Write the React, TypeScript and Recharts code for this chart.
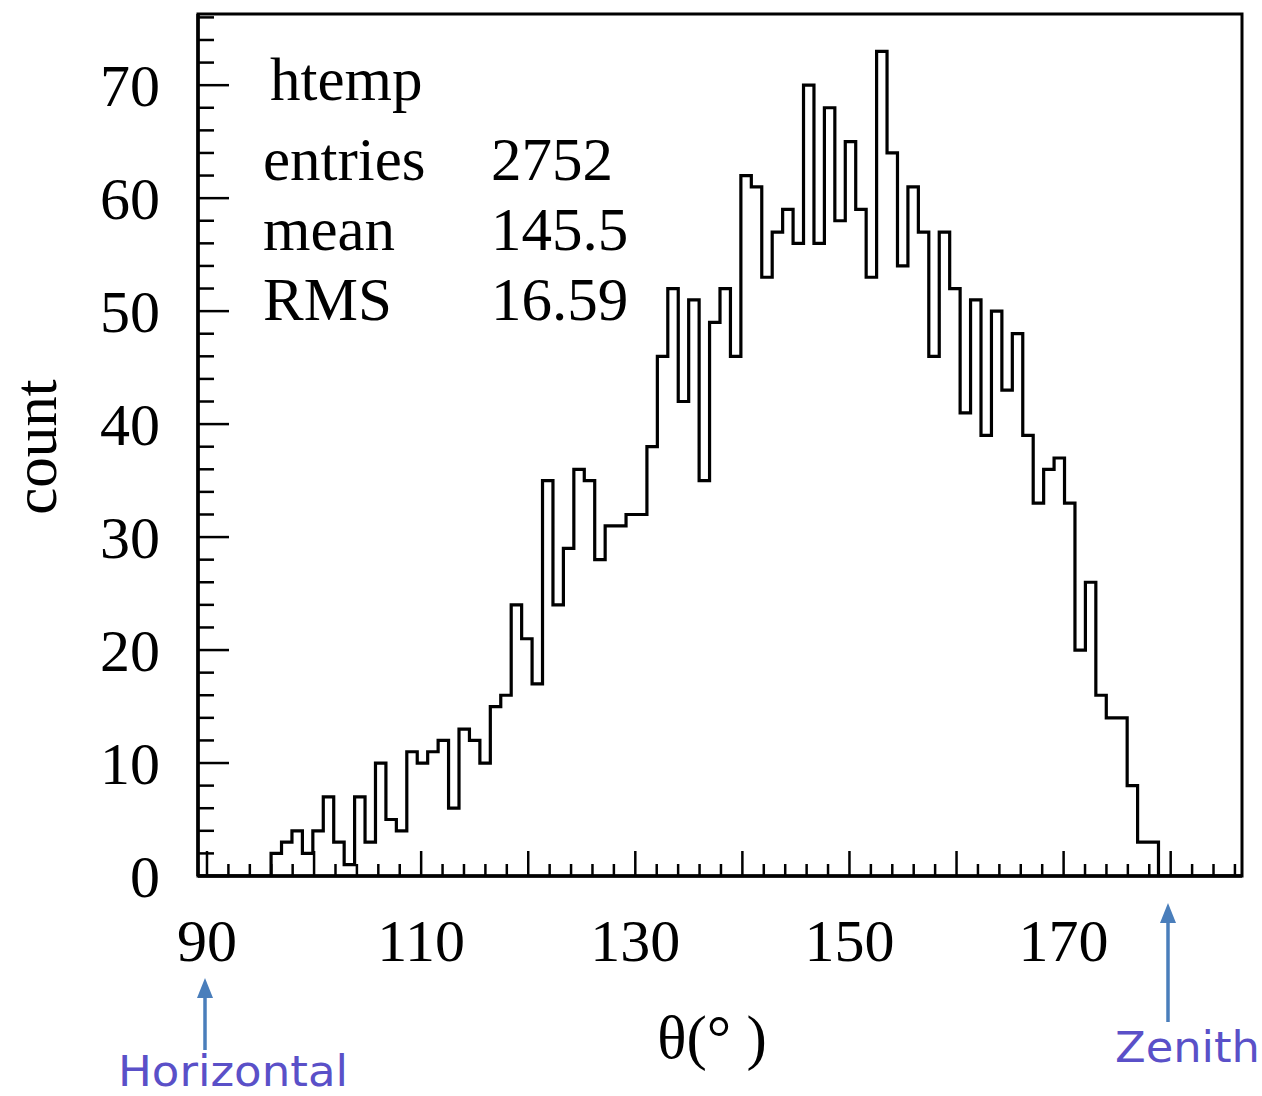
import { Line, LineChart, ReferenceArea, XAxis, YAxis } from 'recharts'

// counts per bin, 100 bins from xMin
const counts = [
  0, 0, 0, 0, 0, 0, 0, 2, 3, 4,
  2, 4, 7, 3, 1, 7, 3, 10, 5, 4,
  11, 10, 11, 12, 6, 13, 12, 10, 15, 16,
  24, 21, 17, 35, 24, 29, 36, 35, 28, 31,
  31, 32, 32, 38, 46, 52, 42, 51, 35, 49,
  52, 46, 62, 61, 53, 57, 59, 56, 70, 56,
  68, 58, 65, 59, 53, 73, 64, 54, 61, 57,
  46, 57, 52, 41, 51, 39, 50, 43, 48, 39,
  33, 36, 37, 33, 20, 26, 16, 14, 14, 8,
  3, 3, 0, 0, 0, 0, 0, 0, 0, 0,
]

const xMin = 89.16
const binWidth = 0.975
const xMax = xMin + counts.length * binWidth
const yMax = 76.3

const xLabels = [90, 110, 130, 150, 170]
const yLabels = [0, 10, 20, 30, 40, 50, 60, 70]
const statNames = ['entries', 'mean', 'RMS']
const statValues = ['2752', '145.5', '16.59']

const xTicks = Array.from({ length: 49 }, (_, i) => 90 + i * 2)
const yTicks = Array.from({ length: 39 }, (_, i) => i * 2)

const data = [
  ...counts.map((c, i) => ({ x: xMin + i * binWidth, count: c })),
  { x: xMax, count: 0 },
]

const serif = 'Liberation Serif, Times New Roman, serif'

const XTick = (props: any) => {
  const { x, y, payload } = props
  const v = payload.value
  const major = v % 10 === 0
  return (
    <g>
      <line x1={x} x2={x} y1={y} y2={y - (major ? 25 : 12)} stroke="#000" strokeWidth={2.5} />
      {xLabels.includes(v) && (
        <text x={x} y={y + 85} textAnchor="middle" fontFamily={serif} fontSize={60} fill="#000">
          {v}
        </text>
      )}
    </g>
  )
}

const YTick = (props: any) => {
  const { x, y, payload } = props
  const v = payload.value
  const major = v % 10 === 0
  return (
    <g>
      <line x1={x} x2={x + (major ? 31 : 16)} y1={y} y2={y} stroke="#000" strokeWidth={2.5} />
      {yLabels.includes(v) && (
        <text x={x - 38} y={y + 21} textAnchor="end" fontFamily={serif} fontSize={60} fill="#000">
          {v}
        </text>
      )}
    </g>
  )
}

const Arrow = ({ x, tip, tail }: { x: number; tip: number; tail: number }) => (
  <g fill="#4a7ebb" stroke="#4a7ebb">
    <line x1={x} x2={x} y1={tip + 18} y2={tail} strokeWidth={3.5} />
    <polygon points={`${x},${tip} ${x - 8},${tip + 20} ${x + 8},${tip + 20}`} stroke="none" />
  </g>
)

export default function App() {
  return (
    <div style={{ position: 'absolute', left: 0, top: 0, width: 1262, height: 1096, background: '#fff' }}>
      <LineChart
        width={1262}
        height={1096}
        data={data}
        margin={{ top: 14, right: 20, bottom: 160, left: 98 }}
      >
        <XAxis
          dataKey="x"
          type="number"
          domain={[xMin, xMax]}
          ticks={xTicks}
          interval={0}
          height={60}
          tickSize={0}
          tickMargin={0}
          tickLine={false}
          tick={<XTick />}
          axisLine={{ stroke: '#000', strokeWidth: 3.5 }}
          allowDataOverflow
        />
        <YAxis
          type="number"
          domain={[0, yMax]}
          ticks={yTicks}
          interval={0}
          width={100}
          tickSize={0}
          tickMargin={0}
          tickLine={false}
          tick={<YTick />}
          axisLine={{ stroke: '#000', strokeWidth: 3.5 }}
          allowDataOverflow
        />
        <ReferenceArea
          x1={xMin}
          x2={xMax}
          y1={0}
          y2={yMax}
          fill="none"
          stroke="#000"
          strokeWidth={3}
          ifOverflow="visible"
        />
        <Line
          type="stepAfter"
          dataKey="count"
          stroke="#000"
          strokeWidth={3.2}
          dot={false}
          isAnimationActive={false}
        />
      </LineChart>
      <svg
        width={1262}
        height={1096}
        style={{ position: 'absolute', left: 0, top: 0, pointerEvents: 'none' }}
      >
        <g fontFamily={serif} fontSize={61} fill="#000">
          <text x={270} y={100}>htemp</text>
          {statNames.map((name, i) => (
            <text key={name} x={263} y={180 + i * 70}>
              {name}
            </text>
          ))}
          {statValues.map((val, i) => (
            <text key={val} x={491} y={180 + i * 70}>
              {val}
            </text>
          ))}
          <text x={56} y={447} textAnchor="middle" transform="rotate(-90 56 447)">
            count
          </text>
          <text x={712} y={1058} textAnchor="middle">
            θ(° )
          </text>
        </g>
        <Arrow x={205} tip={978} tail={1050} />
        <Arrow x={1168} tip={903} tail={1022} />
        <g fontFamily="DejaVu Sans, sans-serif" fontSize={42} fill="#5a50c8">
          <text x={118} y={1086} textLength={230} lengthAdjust="spacingAndGlyphs">
            Horizontal
          </text>
          <text x={1115} y={1062} textLength={145} lengthAdjust="spacingAndGlyphs">
            Zenith
          </text>
        </g>
      </svg>
    </div>
  )
}
